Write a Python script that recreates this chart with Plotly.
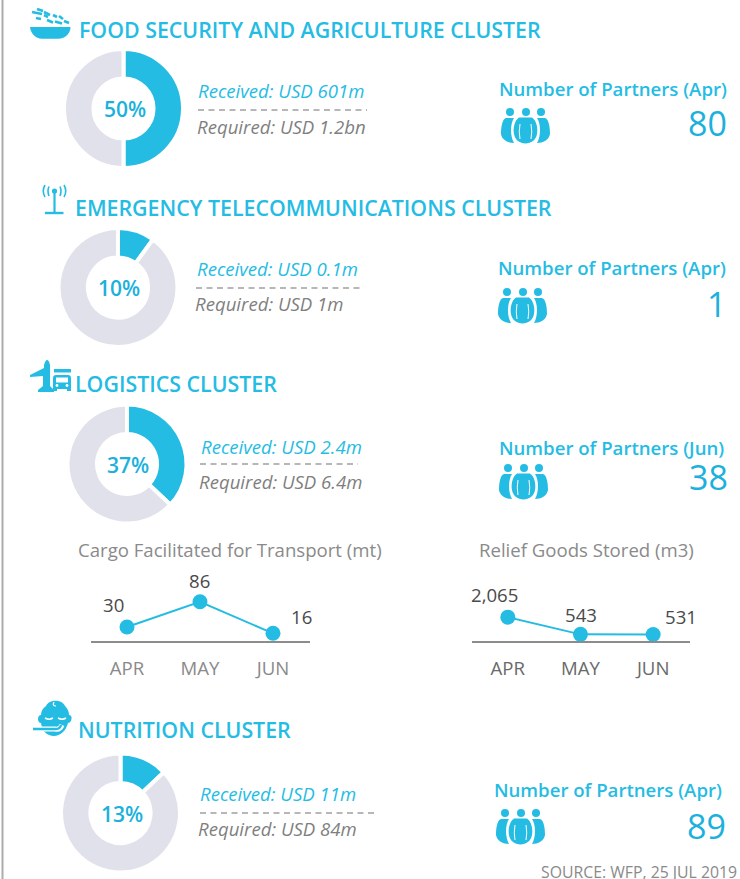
import plotly.graph_objects as go

# ---- data ----
cluster_titles = ["FOOD SECURITY AND AGRICULTURE CLUSTER", "EMERGENCY TELECOMMUNICATIONS CLUSTER",
                  "LOGISTICS CLUSTER", "NUTRITION CLUSTER"]
funded_pct = [50, 10, 37, 13]
received_labels = ["Received: USD 601m", "Received: USD 0.1m", "Received: USD 2.4m", "Received: USD 11m"]
required_labels = ["Required: USD 1.2bn", "Required: USD 1m", "Required: USD 6.4m", "Required: USD 84m"]
partner_labels = ["Number of Partners (Apr)", "Number of Partners (Apr)", "Number of Partners (Jun)", "Number of Partners (Apr)"]
partner_counts = [80, 1, 38, 89]
months = ["APR", "MAY", "JUN"]
cargo_mt = [30, 86, 16]
relief_m3 = [2065, 543, 531]

BLUE = "#25BCE4"
TEAL = "#1BB1DC"
PALE = "#E1E1EC"
GREY = "#8A8A8A"
DARK = "#4A4A4A"
FONT = "Open Sans"
W, H = 740, 879

fig = go.Figure()

blocks = [
    dict(c=(123.5, 108.5), t=(77, 29), r=(196, 90), q=(195, 126), d=(198, 367, 110), p=(612.5, 88.5), n=(729, 123), i=(500, 108)),
    dict(c=(118, 287.5), t=(73, 207), r=(195, 268), q=(193, 303), d=(196, 360, 288), p=(611.5, 267.5), n=(728, 304), i=(497, 288)),
    dict(c=(127, 464), t=(72.5, 383), r=(198.5, 446), q=(197, 481), d=(200, 358, 464), p=(611.5, 447), n=(730, 477), i=(498, 464)),
    dict(c=(120.5, 813), t=(75.5, 729), r=(197.5, 793), q=(196, 828), d=(200, 377, 813), p=(608, 789.5), n=(728, 826), i=(495, 809)),
]
RAD = 59.5
annos, shapes = [], []


def text(x, y, s, size, color, anchor="left", weight=400, style="normal"):
    annos.append(dict(x=x, y=y, xref="x3", yref="y3", text=s, showarrow=False, xanchor=anchor, yanchor="middle",
                      font=dict(family=FONT, size=size, color=color, weight=weight, style=style)))


def path(d, fill=BLUE, line=None, width=0):
    shapes.append(dict(type="path", xref="x3", yref="y3", path=d, fillcolor=fill,
                       line=dict(color=line or "rgba(0,0,0,0)", width=width)))


def stroke(d, color=BLUE, width=2):
    shapes.append(dict(type="path", xref="x3", yref="y3", path=d, fillcolor="rgba(0,0,0,0)",
                       line=dict(color=color, width=width)))


def circle(cx, cy, r, fill=BLUE):
    shapes.append(dict(type="circle", xref="x3", yref="y3", x0=cx - r, x1=cx + r, y0=cy - r, y1=cy + r,
                       fillcolor=fill, line=dict(width=0)))


def people(x, y):
    for hx in (10, 26, 41):
        circle(x + hx, y + 4, 4)
    path(f"M{x+6},{y+10} C{x+2},{y+11} {x+1},{y+20} {x+1},{y+26} C{x+2},{y+32} {x+8},{y+35} {x+14},{y+35} "
         f"C{x+10},{y+28} {x+10},{y+16} {x+14},{y+10} Z")
    path(f"M{x+45},{y+10} C{x+49},{y+11} {x+50},{y+20} {x+50},{y+26} C{x+49},{y+32} {x+43},{y+35} {x+37},{y+35} "
         f"C{x+41},{y+28} {x+41},{y+16} {x+37},{y+10} Z")
    path(f"M{x+19},{y+9.5} C{x+14},{y+13} {x+13},{y+21} {x+14},{y+26} C{x+15},{y+32} {x+20},{y+35.5} {x+25.5},{y+35.5} "
         f"C{x+31},{y+35.5} {x+36},{y+32} {x+37},{y+26} C{x+38},{y+21} {x+37},{y+13} {x+32},{y+9.5} Z")
    stroke(f"M{x+20},{y+16} Q{x+18.5},{y+24} {x+20},{y+31}", "white", 1)
    stroke(f"M{x+31},{y+16} Q{x+32.5},{y+24} {x+31},{y+31}", "white", 1)


for b, pct, title, rec, req, plabel, count in zip(blocks, funded_pct, cluster_titles, received_labels,
                                                  required_labels, partner_labels, partner_counts):
    cx, cy = b["c"]
    fig.add_trace(go.Pie(values=[pct, 100 - pct], sort=False, direction="clockwise", rotation=0, hole=0.505,
                         textinfo="none", hoverinfo="skip", showlegend=False,
                         marker=dict(colors=[BLUE, PALE], line=dict(color="white", width=4)),
                         domain=dict(x=[(cx - RAD) / W, (cx + RAD) / W], y=[1 - (cy + RAD) / H, 1 - (cy - RAD) / H])))
    text(cx + 1, cy + 0.5, f"{pct}%", 21, TEAL, "center", 600)
    text(*b["t"], title, 21.35, BLUE, "left", 600)
    text(*b["r"], rec, 18.6, BLUE, "left", 400, "italic")
    text(*b["q"], req, 18.6, "#7F7F7F", "left", 400, "italic")
    x0, x1, dy = b["d"]
    shapes.append(dict(type="line", xref="x3", yref="y3", x0=x0, x1=x1, y0=dy, y1=dy,
                       line=dict(color="#A0A0A0", width=1.5, dash="6px,4.5px")))
    text(*b["p"], plabel, 18.6, BLUE, "center", 600)
    text(*b["n"], str(count), 34, TEAL, "right", 400)
    people(*b["i"])

chart_traces = [
    ("x", "y", cargo_mt, [(-13, 23), (0, 21), (29, 17)]),
    ("x2", "y2", relief_m3, [(-13, 23), (1, 20), (28, 18)]),
]
for xa, ya, vals, offs in chart_traces:
    fig.add_trace(go.Scatter(x=months, y=vals, xaxis=xa, yaxis=ya, mode="lines+markers", cliponaxis=False,
                             hoverinfo="skip", showlegend=False,
                             line=dict(color=BLUE, width=2), marker=dict(color=BLUE, size=15)))
    for m, v, (dx, dy) in zip(months, vals, offs):
        annos.append(dict(x=m, y=v, xref=xa, yref=ya, text=f"{v:,}", showarrow=False, xshift=dx, yshift=dy,
                          font=dict(family=FONT, size=18.6, color=DARK)))

axis_common = dict(type="category", categoryorder="array", categoryarray=months, showgrid=False, zeroline=False,
                   showline=True, linewidth=1.5, ticks="outside", ticklen=10, tickcolor="rgba(0,0,0,0)",
                   range=[-0.493, 2.507], fixedrange=True)
yaxis_common = dict(visible=False, showgrid=False, zeroline=False, fixedrange=True)

text(230, 549, "Cargo Facilitated for Transport (mt)", 18.6, GREY, "center")
text(586, 549, "Relief Goods Stored (m3)", 18.6, GREY, "center")
text(739, 871.5, "SOURCE: WFP, 25 JUL 2019", 15.8, GREY, "right")

shapes.append(dict(type="line", xref="x3", yref="y3", x0=2.5, x1=2.5, y0=0, y1=879, line=dict(color="#ABABAB", width=2)))

# food icon
path("M30,27 H70.5 C70.5,33 66,38.7 58,38.7 H42 C35,38.7 30.5,33 30,27 Z")
for seg in [(37, 9, 43, 11), (44, 12, 50, 15), (53, 15, 57, 17), (59, 16, 63, 19), (32, 12, 42, 14), (36, 18, 41, 19),
            (47, 20, 53, 22.5), (55, 21.5, 62, 23.5), (64, 21, 69, 23), (44, 15, 48, 17)]:
    stroke(f"M{seg[0]},{seg[1]} L{seg[2]},{seg[3]}", BLUE, 2.6)

# telecom icon
circle(54.5, 191, 2.6)
stroke("M54.5,191 L54.5,213", BLUE, 2.2)
stroke("M45,213 L63.5,213", BLUE, 2.4)
stroke("M49,186.5 Q47,191 49,196", BLUE, 1.6)
stroke("M60,186.5 Q62,191 60,196", BLUE, 1.6)
stroke("M45,185 Q41.5,191 45,197", BLUE, 1.6)
stroke("M64,185 Q67.5,191 64,197", BLUE, 1.6)

# logistics icon
path("M44,365 Q45.5,360 47,360 Q49,360 50,365 L50,374 L50,386 L54,390 L54,392 L38,392 L38,390 L43,386 L43,376 "
     "L30,377 L30,375 L44,368 Z")
path("M54,369 H71 V372.5 H54 Z")
path("M53,378 Q53,375 56,375 H68 Q71,375 71,378 V391 H67 V389 H57 V391 H53 Z")
path("M56,377.5 H68 V382.5 H56 Z", "white")
circle(57, 385.5, 1.4, "white")
circle(67, 385.5, 1.4, "white")

# nutrition icon
path("M46,706 C49,699 62,699 65,706 C68,709 69,712 69,715 C71,715 72,717 71.5,719 C71,722 69,723 68,723 "
     "C66,731 60,736 54,736 C47,736 42,731 41,723 C39,723 38,721 38,719 C38,717 39,715 41,715 C41,711 43,708 46,706 Z")
stroke("M54,702 Q52,706 56,706", "white", 1.2)
stroke("M45,718 Q49,720.5 53,718", "white", 1.5)
stroke("M58,718 Q62,720.5 66,718", "white", 1.5)
stroke("M31,729 H55 Q60,730 62,725", "white", 5)
stroke("M33,729 H56 Q60,729 61,725", BLUE, 2.4)

fig.update_layout(
    width=W, height=H, autosize=False, margin=dict(l=0, r=0, t=0, b=0),
    paper_bgcolor="white", plot_bgcolor="rgba(0,0,0,0)",
    font=dict(family=FONT),
    xaxis=dict(domain=[91 / W, 310 / W], linecolor="#8C8C8C", tickfont=dict(family=FONT, size=18.6, color=GREY), anchor="y", **axis_common),
    yaxis=dict(domain=[1 - 640.5 / H, 1 - 570.5 / H], range=[0, 155.6], anchor="x", **yaxis_common),
    xaxis2=dict(domain=[472 / W, 690 / W], linecolor="#8C8C8C", tickfont=dict(family=FONT, size=18.6, color="#6A6A6A"), anchor="y2", **axis_common),
    yaxis2=dict(domain=[1 - 640.5 / H, 1 - 570.5 / H], range=[0, 6195], anchor="x2", **yaxis_common),
    xaxis3=dict(domain=[0, 1], range=[0, W], visible=False, anchor="y3", fixedrange=True),
    yaxis3=dict(domain=[0, 1], range=[H, 0], visible=False, anchor="x3", fixedrange=True),
    annotations=annos, shapes=shapes,
)
fig.write_html("out.html", config=dict(displayModeBar=False),
               post_script="document.body.style.margin='0';document.body.style.overflow='hidden';")
